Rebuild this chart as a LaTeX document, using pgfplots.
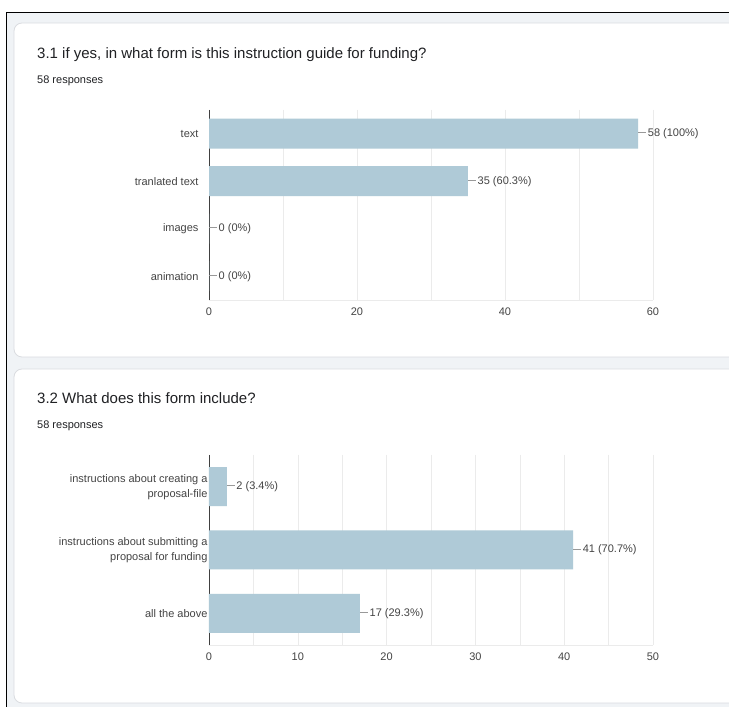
\documentclass[border=0pt]{standalone}
\usepackage{pgfplots}
\pgfplotsset{compat=1.18}
\usepackage{fontspec}
\setmainfont{Liberation Sans}
\definecolor{barc}{HTML}{AFCAD7}
\definecolor{gridc}{HTML}{EBEBEB}
\definecolor{bgc}{HTML}{F0F3F6}
\definecolor{cardb}{HTML}{DADCE0}
\definecolor{txt}{HTML}{202124}
\definecolor{lab}{HTML}{444444}
\definecolor{leader}{HTML}{999999}
\pgfplotsset{
  gfbar/.style={
    scale only axis, width=444pt, height=190pt,
    xbar, y dir=reverse,
    axis x line*=bottom, axis y line*=left,
    x axis line style={draw=gridc},
    y axis line style={draw=black!75, line width=0.8pt},
    axis line style={-},
    major tick length=0pt, minor tick length=0pt,
    xmajorgrids=true, xminorgrids=true, ymajorgrids=false,
    major grid style={gridc}, minor grid style={gridc},
    tick label style={font=\fontsize{11}{13}\selectfont, text=lab},
    xticklabel style={yshift=-4pt},
    /pgf/number format/assume math mode=true,
    point meta=explicit symbolic,
    nodes near coords={\textcolor{leader}{\rule[0.33em]{8pt}{0.7pt}}\hspace{1.5pt}\pgfplotspointmeta},
    nodes near coords style={anchor=west, inner sep=0pt, font=\fontsize{11}{13}\selectfont, text=lab},
  }
}
\begin{document}
\begin{tikzpicture}
\useasboundingbox (0,0) rectangle (729pt,707pt);
\clip (0,0) rectangle (729pt,707pt);
\fill[white] (0,0) rectangle (729pt,707pt);
\fill[bgc] (6pt,0) rectangle (729pt,694pt);
\draw[black, line width=1pt] (6pt,0) -- (6pt,694pt) -- (740pt,694pt);
% cards
\draw[cardb, fill=white, rounded corners=8pt, line width=0.8pt] (14pt,350pt) rectangle (745pt,684pt);
\draw[cardb, fill=white, rounded corners=8pt, line width=0.8pt] (14pt,4pt) rectangle (745pt,338pt);
% titles
\node[anchor=base west, inner sep=0pt, text=txt, font=\fontsize{15}{18}\selectfont] at (37pt,648pt) {3.1 if yes, in what form is this instruction guide for funding?};
\node[anchor=base west, inner sep=0pt, text=txt, font=\fontsize{11}{13}\selectfont] at (37pt,623pt) {58 responses};
\node[anchor=base west, inner sep=0pt, text=txt, font=\fontsize{15}{18}\selectfont] at (37pt,303pt) {3.2 What does this form include?};
\node[anchor=base west, inner sep=0pt, text=txt, font=\fontsize{11}{13}\selectfont] at (37pt,278pt) {58 responses};

\begin{axis}[gfbar,
  at={(209pt,407pt)}, anchor=south west,
  xmin=0, xmax=60, ymin=-0.5, ymax=3.5,
  xtick={0,20,40,60}, minor xtick={10,30,50},
  ytick={0,1,2,3},
  yticklabels={text, tranlated text, images, animation},
  yticklabel style={xshift=-7pt},
  bar width=30pt,
]
\addplot[fill=barc, draw=none] coordinates {
  (58,0) [58 (100\%)]
  (35,1) [35 (60.3\%)]
  (0,2) [0 (0\%)]
  (0,3) [0 (0\%)]
};
\end{axis}

\begin{axis}[gfbar,
  at={(209pt,62pt)}, anchor=south west,
  xmin=0, xmax=50, ymin=-0.5, ymax=2.5,
  xtick={0,10,20,30,40,50}, minor xtick={5,15,25,35,45},
  ytick={0,1,2},
  yticklabels={{instructions about creating a\\proposal-file},{instructions about submitting a\\proposal for funding},{all the above}},
  yticklabel style={align=right, xshift=2pt, font=\fontsize{11}{15}\selectfont},
  bar width=39pt,
]
\addplot[fill=barc, draw=none] coordinates {
  (2,0) [2 (3.4\%)]
  (41,1) [41 (70.7\%)]
  (17,2) [17 (29.3\%)]
};
\end{axis}
\end{tikzpicture}
\end{document}
